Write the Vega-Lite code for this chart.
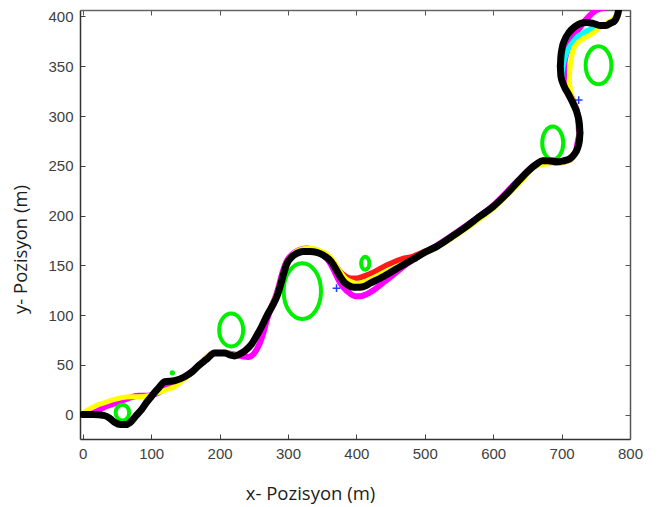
{
  "$schema": "https://vega.github.io/schema/vega-lite/v6.json",
  "width": 550,
  "height": 429,
  "autosize": {"type": "none"},
  "padding": {"left": 80, "top": 10, "right": 28, "bottom": 68},
  "background": "white",
  "config": {"view": {"stroke": null}, "axis": {"grid": false, "labelFlush": false, "labelOverlap": false}},
  "datasets": {
    "paths": [
      {"traj": "magenta", "i": 1, "x": 0, "y": 0}, {"traj": "magenta", "i": 2, "x": 20, "y": 3}, {"traj": "magenta", "i": 3, "x": 33, "y": 8}, {"traj": "magenta", "i": 4, "x": 50, "y": 12}, {"traj": "magenta", "i": 5, "x": 65, "y": 16}, {"traj": "magenta", "i": 6, "x": 81, "y": 19}, {"traj": "magenta", "i": 7, "x": 95, "y": 19}, {"traj": "magenta", "i": 8, "x": 110, "y": 22}, {"traj": "magenta", "i": 9, "x": 125, "y": 28}, {"traj": "magenta", "i": 10, "x": 140, "y": 33}, {"traj": "magenta", "i": 11, "x": 150, "y": 38}, {"traj": "magenta", "i": 12, "x": 169, "y": 49}, {"traj": "magenta", "i": 13, "x": 193, "y": 62}, {"traj": "magenta", "i": 14, "x": 208, "y": 62}, {"traj": "magenta", "i": 15, "x": 230, "y": 59}, {"traj": "magenta", "i": 16, "x": 242, "y": 58}, {"traj": "magenta", "i": 17, "x": 252, "y": 63}, {"traj": "magenta", "i": 18, "x": 259, "y": 72}, {"traj": "magenta", "i": 19, "x": 264, "y": 82}, {"traj": "magenta", "i": 20, "x": 268, "y": 92}, {"traj": "magenta", "i": 21, "x": 272, "y": 101}, {"traj": "magenta", "i": 22, "x": 277, "y": 110}, {"traj": "magenta", "i": 23, "x": 282, "y": 119}, {"traj": "magenta", "i": 24, "x": 287, "y": 130}, {"traj": "magenta", "i": 25, "x": 292, "y": 143}, {"traj": "magenta", "i": 26, "x": 298, "y": 154}, {"traj": "magenta", "i": 27, "x": 306, "y": 161}, {"traj": "magenta", "i": 28, "x": 315, "y": 165}, {"traj": "magenta", "i": 29, "x": 327, "y": 167}, {"traj": "magenta", "i": 30, "x": 340, "y": 165}, {"traj": "magenta", "i": 31, "x": 352, "y": 160}, {"traj": "magenta", "i": 32, "x": 361, "y": 153}, {"traj": "magenta", "i": 33, "x": 368, "y": 144}, {"traj": "magenta", "i": 34, "x": 375, "y": 134}, {"traj": "magenta", "i": 35, "x": 382, "y": 127}, {"traj": "magenta", "i": 36, "x": 390, "y": 122}, {"traj": "magenta", "i": 37, "x": 398, "y": 119}, {"traj": "magenta", "i": 38, "x": 406, "y": 119}, {"traj": "magenta", "i": 39, "x": 415, "y": 121}, {"traj": "magenta", "i": 40, "x": 425, "y": 125}, {"traj": "magenta", "i": 41, "x": 440, "y": 133}, {"traj": "magenta", "i": 42, "x": 460, "y": 144}, {"traj": "magenta", "i": 43, "x": 483, "y": 156}, {"traj": "magenta", "i": 44, "x": 518, "y": 170}, {"traj": "magenta", "i": 45, "x": 561, "y": 190}, {"traj": "magenta", "i": 46, "x": 600, "y": 210}, {"traj": "magenta", "i": 47, "x": 639, "y": 237}, {"traj": "magenta", "i": 48, "x": 664, "y": 252}, {"traj": "magenta", "i": 49, "x": 680, "y": 254}, {"traj": "magenta", "i": 50, "x": 693, "y": 253}, {"traj": "magenta", "i": 51, "x": 712, "y": 256}, {"traj": "magenta", "i": 52, "x": 721, "y": 265}, {"traj": "magenta", "i": 53, "x": 726, "y": 280}, {"traj": "magenta", "i": 54, "x": 724, "y": 300}, {"traj": "magenta", "i": 55, "x": 717, "y": 315}, {"traj": "magenta", "i": 56, "x": 709, "y": 328}, {"traj": "magenta", "i": 57, "x": 704, "y": 340}, {"traj": "magenta", "i": 58, "x": 704, "y": 352}, {"traj": "magenta", "i": 59, "x": 707, "y": 363}, {"traj": "magenta", "i": 60, "x": 712, "y": 372}, {"traj": "magenta", "i": 61, "x": 720, "y": 382}, {"traj": "magenta", "i": 62, "x": 730, "y": 392}, {"traj": "magenta", "i": 63, "x": 740, "y": 400}, {"traj": "magenta", "i": 64, "x": 750, "y": 406}, {"traj": "magenta", "i": 65, "x": 765, "y": 409},
      {"traj": "red", "i": 1, "x": 340, "y": 164}, {"traj": "red", "i": 2, "x": 352, "y": 161}, {"traj": "red", "i": 3, "x": 362, "y": 156}, {"traj": "red", "i": 4, "x": 370, "y": 149}, {"traj": "red", "i": 5, "x": 377, "y": 143}, {"traj": "red", "i": 6, "x": 384, "y": 139}, {"traj": "red", "i": 7, "x": 392, "y": 137}, {"traj": "red", "i": 8, "x": 401, "y": 137}, {"traj": "red", "i": 9, "x": 411, "y": 139}, {"traj": "red", "i": 10, "x": 425, "y": 143}, {"traj": "red", "i": 11, "x": 444, "y": 150}, {"traj": "red", "i": 12, "x": 465, "y": 156}, {"traj": "red", "i": 13, "x": 483, "y": 159}, {"traj": "red", "i": 14, "x": 500, "y": 164},
      {"traj": "cyan", "i": 1, "x": 700, "y": 338}, {"traj": "cyan", "i": 2, "x": 702, "y": 350}, {"traj": "cyan", "i": 3, "x": 706, "y": 361}, {"traj": "cyan", "i": 4, "x": 712, "y": 370}, {"traj": "cyan", "i": 5, "x": 721, "y": 378}, {"traj": "cyan", "i": 6, "x": 733, "y": 384}, {"traj": "cyan", "i": 7, "x": 746, "y": 388}, {"traj": "cyan", "i": 8, "x": 758, "y": 391},
      {"traj": "yellow", "i": 1, "x": 0, "y": 1}, {"traj": "yellow", "i": 2, "x": 6, "y": 4}, {"traj": "yellow", "i": 3, "x": 16, "y": 8}, {"traj": "yellow", "i": 4, "x": 32, "y": 12}, {"traj": "yellow", "i": 5, "x": 45, "y": 15}, {"traj": "yellow", "i": 6, "x": 56, "y": 17}, {"traj": "yellow", "i": 7, "x": 70, "y": 18}, {"traj": "yellow", "i": 8, "x": 82, "y": 18}, {"traj": "yellow", "i": 9, "x": 96, "y": 19}, {"traj": "yellow", "i": 10, "x": 110, "y": 22}, {"traj": "yellow", "i": 11, "x": 122, "y": 25}, {"traj": "yellow", "i": 12, "x": 134, "y": 28}, {"traj": "yellow", "i": 13, "x": 149, "y": 36}, {"traj": "yellow", "i": 14, "x": 160, "y": 43}, {"traj": "yellow", "i": 15, "x": 169, "y": 50}, {"traj": "yellow", "i": 16, "x": 180, "y": 57}, {"traj": "yellow", "i": 17, "x": 193, "y": 63}, {"traj": "yellow", "i": 18, "x": 208, "y": 63}, {"traj": "yellow", "i": 19, "x": 222, "y": 60}, {"traj": "yellow", "i": 20, "x": 237, "y": 65}, {"traj": "yellow", "i": 21, "x": 246, "y": 71}, {"traj": "yellow", "i": 22, "x": 254, "y": 80}, {"traj": "yellow", "i": 23, "x": 262, "y": 90}, {"traj": "yellow", "i": 24, "x": 269, "y": 100}, {"traj": "yellow", "i": 25, "x": 277, "y": 111}, {"traj": "yellow", "i": 26, "x": 284, "y": 122}, {"traj": "yellow", "i": 27, "x": 290, "y": 135}, {"traj": "yellow", "i": 28, "x": 296, "y": 150}, {"traj": "yellow", "i": 29, "x": 305, "y": 160}, {"traj": "yellow", "i": 30, "x": 315, "y": 165}, {"traj": "yellow", "i": 31, "x": 325, "y": 167}, {"traj": "yellow", "i": 32, "x": 336, "y": 167}, {"traj": "yellow", "i": 33, "x": 346, "y": 165}, {"traj": "yellow", "i": 34, "x": 355, "y": 162}, {"traj": "yellow", "i": 35, "x": 362, "y": 158}, {"traj": "yellow", "i": 36, "x": 368, "y": 153}, {"traj": "yellow", "i": 37, "x": 373, "y": 147}, {"traj": "yellow", "i": 38, "x": 378, "y": 142}, {"traj": "yellow", "i": 39, "x": 384, "y": 137}, {"traj": "yellow", "i": 40, "x": 391, "y": 134}, {"traj": "yellow", "i": 41, "x": 400, "y": 132}, {"traj": "yellow", "i": 42, "x": 410, "y": 133}, {"traj": "yellow", "i": 43, "x": 420, "y": 136}, {"traj": "yellow", "i": 44, "x": 435, "y": 141}, {"traj": "yellow", "i": 45, "x": 450, "y": 146}, {"traj": "yellow", "i": 46, "x": 470, "y": 152}, {"traj": "yellow", "i": 47, "x": 490, "y": 159}, {"traj": "yellow", "i": 48, "x": 518, "y": 168}, {"traj": "yellow", "i": 49, "x": 561, "y": 187}, {"traj": "yellow", "i": 50, "x": 600, "y": 207}, {"traj": "yellow", "i": 51, "x": 639, "y": 233}, {"traj": "yellow", "i": 52, "x": 664, "y": 250}, {"traj": "yellow", "i": 53, "x": 680, "y": 252}, {"traj": "yellow", "i": 54, "x": 700, "y": 253}, {"traj": "yellow", "i": 55, "x": 713, "y": 256}, {"traj": "yellow", "i": 56, "x": 721, "y": 263}, {"traj": "yellow", "i": 57, "x": 725, "y": 273}, {"traj": "yellow", "i": 58, "x": 726, "y": 286}, {"traj": "yellow", "i": 59, "x": 724, "y": 300}, {"traj": "yellow", "i": 60, "x": 718, "y": 314}, {"traj": "yellow", "i": 61, "x": 713, "y": 325}, {"traj": "yellow", "i": 62, "x": 711, "y": 335}, {"traj": "yellow", "i": 63, "x": 712, "y": 346}, {"traj": "yellow", "i": 64, "x": 714, "y": 357}, {"traj": "yellow", "i": 65, "x": 717, "y": 366}, {"traj": "yellow", "i": 66, "x": 723, "y": 373}, {"traj": "yellow", "i": 67, "x": 732, "y": 378}, {"traj": "yellow", "i": 68, "x": 743, "y": 382}, {"traj": "yellow", "i": 69, "x": 751, "y": 386}, {"traj": "yellow", "i": 70, "x": 758, "y": 390}, {"traj": "yellow", "i": 71, "x": 767, "y": 394}, {"traj": "yellow", "i": 72, "x": 776, "y": 398}, {"traj": "yellow", "i": 73, "x": 781, "y": 402}, {"traj": "yellow", "i": 74, "x": 784, "y": 407}
    ],
    "main": [
      {"i": 1, "x": 0, "y": 0}, {"i": 2, "x": 15, "y": 0}, {"i": 3, "x": 32, "y": -1}, {"i": 4, "x": 40, "y": -4}, {"i": 5, "x": 47, "y": -8}, {"i": 6, "x": 55, "y": -10}, {"i": 7, "x": 63, "y": -10}, {"i": 8, "x": 69, "y": -8}, {"i": 9, "x": 78, "y": -1}, {"i": 10, "x": 86, "y": 5}, {"i": 11, "x": 93, "y": 12}, {"i": 12, "x": 100, "y": 18}, {"i": 13, "x": 110, "y": 26}, {"i": 14, "x": 120, "y": 33}, {"i": 15, "x": 134, "y": 34}, {"i": 16, "x": 149, "y": 38}, {"i": 17, "x": 160, "y": 43}, {"i": 18, "x": 169, "y": 49}, {"i": 19, "x": 180, "y": 55}, {"i": 20, "x": 193, "y": 62}, {"i": 21, "x": 208, "y": 62}, {"i": 22, "x": 215, "y": 60}, {"i": 23, "x": 222, "y": 59}, {"i": 24, "x": 230, "y": 61}, {"i": 25, "x": 237, "y": 64}, {"i": 26, "x": 246, "y": 70}, {"i": 27, "x": 254, "y": 79}, {"i": 28, "x": 262, "y": 89}, {"i": 29, "x": 269, "y": 99}, {"i": 30, "x": 277, "y": 109}, {"i": 31, "x": 284, "y": 119}, {"i": 32, "x": 289, "y": 130}, {"i": 33, "x": 293, "y": 140}, {"i": 34, "x": 298, "y": 151}, {"i": 35, "x": 305, "y": 158}, {"i": 36, "x": 313, "y": 162}, {"i": 37, "x": 322, "y": 164}, {"i": 38, "x": 332, "y": 164}, {"i": 39, "x": 342, "y": 163}, {"i": 40, "x": 352, "y": 160}, {"i": 41, "x": 360, "y": 156}, {"i": 42, "x": 366, "y": 151}, {"i": 43, "x": 371, "y": 145}, {"i": 44, "x": 376, "y": 139}, {"i": 45, "x": 381, "y": 134}, {"i": 46, "x": 388, "y": 130}, {"i": 47, "x": 396, "y": 128}, {"i": 48, "x": 405, "y": 128}, {"i": 49, "x": 412, "y": 129}, {"i": 50, "x": 420, "y": 132}, {"i": 51, "x": 435, "y": 137}, {"i": 52, "x": 448, "y": 142}, {"i": 53, "x": 465, "y": 149}, {"i": 54, "x": 483, "y": 156}, {"i": 55, "x": 500, "y": 163}, {"i": 56, "x": 518, "y": 169}, {"i": 57, "x": 540, "y": 179}, {"i": 58, "x": 561, "y": 189}, {"i": 59, "x": 580, "y": 199}, {"i": 60, "x": 600, "y": 209}, {"i": 61, "x": 620, "y": 222}, {"i": 62, "x": 639, "y": 236}, {"i": 63, "x": 650, "y": 244}, {"i": 64, "x": 664, "y": 252}, {"i": 65, "x": 672, "y": 255}, {"i": 66, "x": 680, "y": 255}, {"i": 67, "x": 693, "y": 254}, {"i": 68, "x": 703, "y": 255}, {"i": 69, "x": 712, "y": 257}, {"i": 70, "x": 718, "y": 261}, {"i": 71, "x": 723, "y": 267}, {"i": 72, "x": 726, "y": 275}, {"i": 73, "x": 727, "y": 283}, {"i": 74, "x": 726, "y": 292}, {"i": 75, "x": 723, "y": 302}, {"i": 76, "x": 718, "y": 311}, {"i": 77, "x": 710, "y": 322}, {"i": 78, "x": 703, "y": 331}, {"i": 79, "x": 699, "y": 340}, {"i": 80, "x": 698, "y": 350}, {"i": 81, "x": 699, "y": 360}, {"i": 82, "x": 701, "y": 369}, {"i": 83, "x": 705, "y": 377}, {"i": 84, "x": 711, "y": 384}, {"i": 85, "x": 720, "y": 390}, {"i": 86, "x": 728, "y": 393}, {"i": 87, "x": 737, "y": 394}, {"i": 88, "x": 746, "y": 393}, {"i": 89, "x": 756, "y": 391}, {"i": 90, "x": 765, "y": 391}, {"i": 91, "x": 771, "y": 393}, {"i": 92, "x": 778, "y": 396}, {"i": 93, "x": 781, "y": 400}, {"i": 94, "x": 783, "y": 405}, {"i": 95, "x": 784, "y": 409}
    ],
    "obstacles": [
      {"name": "O1", "x": 58, "y": 2, "d": 16},
      {"name": "O2", "x": 217, "y": 85, "d": 33},
      {"name": "O3", "x": 321, "y": 124, "d": 56},
      {"name": "O4", "x": 413, "y": 152, "d": 13},
      {"name": "O5", "x": 687, "y": 273, "d": 33},
      {"name": "O6", "x": 754, "y": 351, "d": 38}
    ],
    "dots": [
      {"name": "P1", "x": 131, "y": 42}
    ],
    "crosses": [
      {"x": 371, "y": 127}, {"x": 488, "y": 158}, {"x": 725, "y": 316}
    ]
  },
  "layer": [
    {
      "data": {"name": "paths"},
      "mark": {"type": "line", "clip": true, "strokeCap": "round", "strokeJoin": "round", "interpolate": "monotone"},
      "encoding": {
        "x": {"field": "x", "type": "quantitative", "scale": {"domain": [-4, 800], "nice": false, "zero": false},
          "axis": {"orient": "bottom", "values": [0, 100, 200, 300, 400, 500, 600, 700, 800], "tickSize": -5, "tickColor": "#404040", "labelPadding": 12, "labelFont": "Liberation Sans", "labelFontSize": 15, "labelColor": "#404040", "labelFlush": false, "domainColor": "#333333", "domainWidth": 1.5, "title": "x- Pozisyon (m)", "titleFont": "Open Sans", "titleFontSize": 18.5, "titleFontWeight": "normal", "titleColor": "#1c1c1c", "titleX": 230, "titleY": 60, "titleBaseline": "alphabetic", "titleAnchor": "middle", "titleAlign": "center"}},
        "y": {"field": "y", "type": "quantitative", "scale": {"domain": [-24.5, 406.5], "nice": false, "zero": false},
          "axis": {"orient": "left", "values": [0, 50, 100, 150, 200, 250, 300, 350, 400], "tickSize": -5, "tickColor": "#404040", "labelPadding": 12, "labelFont": "Liberation Sans", "labelFontSize": 15, "labelColor": "#404040", "labelFlush": false, "domainColor": "#333333", "domainWidth": 1.5, "title": "y- Pozisyon (m)", "titleFont": "Open Sans", "titleFontSize": 18.5, "titleFontWeight": "normal", "titleColor": "#1c1c1c", "titleX": -60, "titleY": 239, "titleBaseline": "middle", "titleAlign": "center", "titleAngle": -90}},
        "order": {"field": "i", "type": "quantitative"},
        "detail": {"field": "traj"},
        "color": {"field": "traj", "type": "nominal", "legend": null,
          "scale": {"domain": ["magenta", "red", "cyan", "yellow"], "range": ["#ff00ff", "#ff1a1a", "#00ffff", "#ffff00"]}},
        "strokeWidth": {"field": "traj", "type": "nominal", "legend": null,
          "scale": {"domain": ["magenta", "red", "cyan", "yellow"], "range": [6, 5, 5, 6]}}
      }
    },
    {
      "data": {"name": "obstacles"},
      "mark": {"type": "point", "filled": false, "stroke": "#00ee00", "strokeWidth": 4, "opacity": 1, "clip": true},
      "encoding": {
        "x": {"field": "x", "type": "quantitative", "axis": null},
        "y": {"field": "y", "type": "quantitative", "axis": null},
        "shape": {"field": "name", "type": "nominal", "legend": null,
          "scale": {"domain": ["O1", "O2", "O3", "O4", "O5", "O6"],
            "range": [
              "M0,-1C0.47,-1,0.85,-0.552,0.85,0C0.85,0.552,0.47,1,0,1C-0.47,1,-0.85,0.552,-0.85,0C-0.85,-0.552,-0.47,-1,0,-1Z",
              "M0,-1C0.403,-1,0.73,-0.552,0.73,0C0.73,0.552,0.403,1,0,1C-0.403,1,-0.73,0.552,-0.73,0C-0.73,-0.552,-0.403,-1,0,-1Z",
              "M0,-1C0.37,-1,0.67,-0.552,0.67,0C0.67,0.552,0.37,1,0,1C-0.37,1,-0.67,0.552,-0.67,0C-0.67,-0.552,-0.37,-1,0,-1Z",
              "M0,-1C0.353,-1,0.64,-0.552,0.64,0C0.64,0.552,0.353,1,0,1C-0.353,1,-0.64,0.552,-0.64,0C-0.64,-0.552,-0.353,-1,0,-1Z",
              "M0,-1C0.353,-1,0.64,-0.552,0.64,0C0.64,0.552,0.353,1,0,1C-0.353,1,-0.64,0.552,-0.64,0C-0.64,-0.552,-0.353,-1,0,-1Z",
              "M0,-1C0.376,-1,0.68,-0.552,0.68,0C0.68,0.552,0.376,1,0,1C-0.376,1,-0.68,0.552,-0.68,0C-0.68,-0.552,-0.376,-1,0,-1Z"
            ]}},
        "size": {"field": "d", "type": "quantitative", "legend": null,
          "scale": {"type": "pow", "exponent": 2, "domain": [0, 100], "range": [0, 9916]}}
      }
    },
    {
      "data": {"name": "dots"},
      "mark": {"type": "point", "shape": "circle", "filled": true, "color": "#00ee00", "size": 28, "opacity": 1, "clip": true},
      "encoding": {
        "x": {"field": "x", "type": "quantitative", "axis": null},
        "y": {"field": "y", "type": "quantitative", "axis": null}
      }
    },
    {
      "data": {"name": "crosses"},
      "mark": {"type": "point", "shape": "M-1,0L1,0M0,-1L0,1", "filled": false, "stroke": "#2040ff", "strokeWidth": 1.5, "size": 60, "opacity": 1, "clip": true},
      "encoding": {
        "x": {"field": "x", "type": "quantitative", "axis": null},
        "y": {"field": "y", "type": "quantitative", "axis": null}
      }
    },
    {
      "data": {"name": "main"},
      "mark": {"type": "line", "clip": true, "color": "#000000", "strokeWidth": 7, "strokeCap": "round", "strokeJoin": "round", "interpolate": "monotone"},
      "encoding": {
        "x": {"field": "x", "type": "quantitative",
          "axis": {"orient": "top", "values": [0, 100, 200, 300, 400, 500, 600, 700, 800], "tickSize": -5, "tickColor": "#555555", "labels": false, "domainColor": "#666666", "domainWidth": 1.5, "title": null}},
        "y": {"field": "y", "type": "quantitative",
          "axis": {"orient": "right", "values": [0, 50, 100, 150, 200, 250, 300, 350, 400], "tickSize": -5, "tickColor": "#555555", "labels": false, "domainColor": "#555555", "domainWidth": 1.5, "title": null}},
        "order": {"field": "i", "type": "quantitative"}
      }
    }
  ],
  "resolve": {"axis": {"x": "independent", "y": "independent"}}
}
